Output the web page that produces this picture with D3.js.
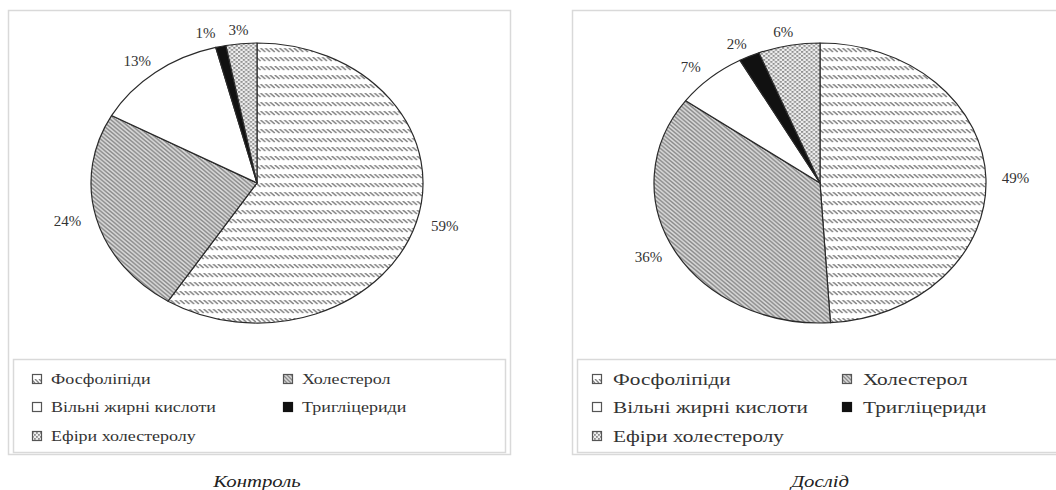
<!DOCTYPE html>
<html>
<head>
<meta charset="utf-8">
<script src="https://cdn.jsdelivr.net/npm/d3@7"></script>
<style>
  html, body { margin: 0; padding: 0; background: #fff; }
  svg { display: block; }
</style>
</head>
<body>
<svg id="chart" width="1056" height="490"></svg>
<script>
// Lipid fractions, %
const categories = ["Фосфоліпіди", "Холестерол", "Вільні жирні кислоти", "Тригліцериди", "Ефіри холестеролу"];
const controlValues = [59, 24, 13, 1, 3];
const experimentValues = [49, 36, 7, 2, 6];
const captions = ["Контроль", "Дослід"];

const FONT = "'Liberation Serif', 'Times New Roman', Tinos, 'DejaVu Serif', 'Noto Serif', serif";

const svg = d3.select("#chart");
const defs = svg.append("defs");

// Fill patterns for the five fractions
function makePatterns() {
  // rows of short backslash strokes
  const p0 = defs.append("pattern").attr("id", "pat-0")
    .attr("patternUnits", "userSpaceOnUse").attr("width", 4).attr("height", 9);
  p0.append("rect").attr("width", 4).attr("height", 9).attr("fill", "#fff");
  p0.append("path").attr("d", "M-1,0 L3,4 M3,0 L7,4 M-1,-4 L1,-2")
    .attr("stroke", "#858585").attr("stroke-width", 1.4).attr("fill", "none");

  // dense downward diagonal
  const p1 = defs.append("pattern").attr("id", "pat-1")
    .attr("patternUnits", "userSpaceOnUse").attr("width", 4).attr("height", 4);
  p1.append("rect").attr("width", 4).attr("height", 4).attr("fill", "#d9d9d9");
  p1.append("path").attr("d", "M-1,-1 L5,5 M-1,3 L1,5 M3,-1 L5,1")
    .attr("stroke", "#8c8c8c").attr("stroke-width", 1.3).attr("fill", "none");

  // dotted grid
  const p4 = defs.append("pattern").attr("id", "pat-4")
    .attr("patternUnits", "userSpaceOnUse").attr("width", 4).attr("height", 4);
  p4.append("rect").attr("width", 4).attr("height", 4).attr("fill", "#eeeeee");
  p4.append("rect").attr("x", 0).attr("y", 0).attr("width", 1.8).attr("height", 1.8).attr("fill", "#8f8f8f");
  p4.append("rect").attr("x", 2).attr("y", 2).attr("width", 1.8).attr("height", 1.8).attr("fill", "#8f8f8f");
}
makePatterns();

const fills = ["url(#pat-0)", "url(#pat-1)", "#ffffff", "#111111", "url(#pat-4)"];

const panels = [
  { values: controlValues, caption: captions[0], x0: 8, x1: 510, cx: 257,
    legendFont: 15, legendStretch: 1.2, legendCols: [32, 283], legendTextGap: 19 },
  { values: experimentValues, caption: captions[1], x0: 572, x1: 1075, cx: 820,
    legendFont: 17, legendStretch: 1.25, legendCols: [592, 842], legendTextGap: 21 }
];

const cy = 183, rx = 166, ry = 140;
const pie = d3.pie().sort(null).value(d => d.value);
const arc = d3.arc().innerRadius(0).outerRadius(ry);

panels.forEach(p => {
  const data = categories.map((c, i) => ({ name: c, value: p.values[i], idx: i }));
  const g = svg.append("g");

  // panel frame and legend frame
  g.append("rect").attr("x", p.x0 + 0.5).attr("y", 10.5)
    .attr("width", p.x1 - p.x0).attr("height", 444)
    .attr("fill", "none").attr("stroke", "#d9d9d9").attr("stroke-width", 1.5);
  g.append("rect").attr("x", p.x0 + 5.5).attr("y", 359.5)
    .attr("width", p.x1 - p.x0 - 10).attr("height", 93)
    .attr("fill", "none").attr("stroke", "#d9d9d9").attr("stroke-width", 1.5);

  // pie, stretched horizontally into an ellipse
  const arcs = pie(data);
  const pg = g.append("g")
    .attr("transform", `translate(${p.cx},${cy}) scale(${rx / ry},1)`);
  pg.selectAll("path").data(arcs).join("path")
    .attr("d", arc)
    .attr("fill", d => fills[d.data.idx])
    .attr("stroke", "#2a2a2a")
    .attr("stroke-width", 1.2)
    .attr("vector-effect", "non-scaling-stroke")
    .attr("stroke-linejoin", "round");

  // percentage label anchors just outside the rim
  const labels = arcs.map(d => {
    const a = (d.startAngle + d.endAngle) / 2;
    return {
      text: d.data.value + "%",
      x: p.cx + Math.sin(a) * (rx * 1.13 + 8),
      y: cy - Math.cos(a) * ry * 1.1
    };
  });
  // push neighbouring labels apart horizontally when they would collide
  const minGap = 33;
  for (let i = 0; i < labels.length; i++) {
    for (let j = i + 1; j < labels.length; j++) {
      const a = labels[i], b = labels[j];
      if (Math.abs(a.y - b.y) < 14 && Math.abs(a.x - b.x) < minGap) {
        const left = a.x < b.x ? a : b, right = left === a ? b : a;
        left.x = right.x - minGap;
      }
    }
  }
  g.selectAll("text.lbl").data(labels).join("text")
    .attr("class", "lbl")
    .attr("x", d => d.x)
    .attr("y", d => d.y)
    .attr("text-anchor", "middle")
    .attr("dominant-baseline", "central")
    .attr("font-family", FONT)
    .attr("font-size", 15)
    .attr("fill", "#333")
    .text(d => d.text);

  // legend: two columns, three rows
  const rowsY = [379, 407, 436];
  const items = g.selectAll("g.leg").data(data).join("g")
    .attr("class", "leg")
    .attr("transform", (d, i) => `translate(${p.legendCols[i % 2]},${rowsY[Math.floor(i / 2)]})`);
  items.append("rect")
    .attr("x", 0.5).attr("y", -4.5).attr("width", 9).attr("height", 9)
    .attr("fill", d => fills[d.idx])
    .attr("stroke", d => d.idx === 3 ? "#111" : "#555")
    .attr("stroke-width", 1.2);
  items.append("text")
    .attr("transform", `translate(${p.legendTextGap},0) scale(${p.legendStretch},1)`)
    .attr("dominant-baseline", "central")
    .attr("font-family", FONT)
    .attr("font-size", p.legendFont)
    .attr("fill", "#333")
    .text(d => d.name);

  // caption under the panel
  g.append("text")
    .attr("transform", `translate(${p.cx},481) scale(1.3,1)`)
    .attr("text-anchor", "middle")
    .attr("dominant-baseline", "central")
    .attr("font-family", FONT)
    .attr("font-size", 16)
    .attr("font-style", "italic")
    .attr("fill", "#222")
    .text(p.caption);
});
</script>
</body>
</html>
